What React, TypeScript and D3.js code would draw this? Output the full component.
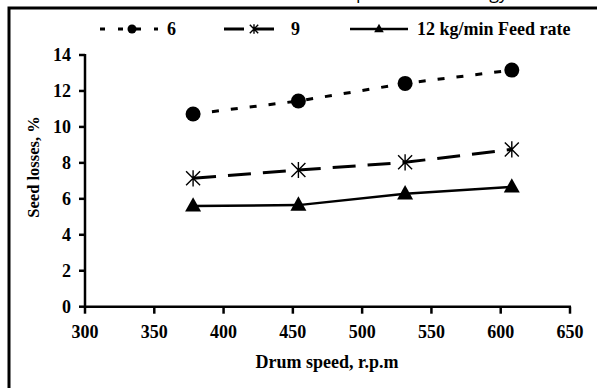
import * as React from 'react';
import * as d3 from 'd3';

// drum speed (r.p.m) where the points sit
const speeds = [378, 454, 531, 608];
// seed losses, % for each feed rate
const rate6 = [10.72, 11.44, 12.42, 13.16];
const rate9 = [7.14, 7.6, 8.03, 8.75];
const rate12 = [5.6, 5.65, 6.28, 6.66];
const xTicks = [300, 350, 400, 450, 500, 550, 600, 650];
const yTicks = [0, 2, 4, 6, 8, 10, 12, 14];
const legendLabels = ['6', '9', '12 kg/min Feed rate'];

const serif = 'Liberation Serif';

function Marker(props: { kind: string; x: number; y: number; s: number }) {
    const { kind, x, y, s } = props;
    if (kind === 'circle') {
        return <circle cx={x} cy={y} r={s / 2} fill="#000" />;
    }
    if (kind === 'star') {
        const h = s / 2;
        const d = 'M' + (x - h) + ',' + (y - h) + 'L' + (x + h) + ',' + (y + h) +
            'M' + (x + h) + ',' + (y - h) + 'L' + (x - h) + ',' + (y + h) +
            'M' + x + ',' + (y - h * 1.15) + 'L' + x + ',' + (y + h * 1.15);
        return <path d={d} stroke="#000" strokeWidth={1.4} fill="none" />;
    }
    const w = s / 2;
    const d = 'M' + x + ',' + (y - s * 0.55) + 'L' + (x + w) + ',' + (y + s * 0.35) + 'L' + (x - w) + ',' + (y + s * 0.35) + 'Z';
    return <path d={d} fill="#000" />;
}

export default function App() {
    const xScale = d3.scaleLinear().domain([300, 650]).range([85, 570]);
    const yScale = d3.scaleLinear().domain([0, 14]).range([306.7, 55]);

    const series = [
        { values: rate6, dash: '7,12', width: 3, marker: 'circle', size: 15, lx: 100, lm: 132 },
        { values: rate9, dash: '23,12', width: 3, marker: 'star', size: 14, lx: 224, lm: 254 },
        { values: rate12, dash: null, width: 2.5, marker: 'triangle', size: 16, lx: 350, lm: 379 }
    ];

    const line = d3.line<number>()
        .x(function(d, i) { return xScale(speeds[i]); })
        .y(function(d) { return yScale(d); });

    return (
        <svg width={597} height={388} style={{ position: 'absolute', left: 0, top: 0, background: '#fff' }}>
            <rect x={0} y={0} width={597} height={388} fill="#fff" />
            {/* title sits mostly above the frame, only descenders show */}
            <text x={367} y={-1} textAnchor="end" fontFamily="Open Sans" fontSize={18}>Crop</text>
            <text x={508} y={-1} textAnchor="end" fontFamily="Open Sans" fontSize={18}>Technology</text>
            <rect x={9} y={8} width={640} height={440} fill="none" stroke="#000" strokeWidth={3} />

            {/* legend */}
            {series.map(function(s, i) {
                const ly = 29;
                return (
                    <g key={'leg' + i}>
                        <line x1={s.lx} x2={s.lx + 58} y1={ly} y2={ly} stroke="#000" strokeWidth={s.width}
                            strokeDasharray={s.dash ? (i === 0 ? '5,13' : '20,10') : undefined} />
                        <Marker kind={s.marker} x={s.lm} y={ly} s={s.size * 0.6} />
                        <text x={s.lx + 67} y={ly + 6} fontFamily={serif} fontWeight="bold" fontSize={18}>{legendLabels[i]}</text>
                    </g>
                );
            })}

            {/* axes */}
            <g stroke="#000" strokeWidth={2.5}>
                <line x1={xScale(300)} x2={xScale(300)} y1={yScale(14) - 1} y2={yScale(0) + 1} />
                <line x1={xScale(300) - 1} x2={xScale(650) + 1} y1={yScale(0)} y2={yScale(0)} />
                {yTicks.map(function(t) {
                    return <line key={'yt' + t} x1={xScale(300) - 6} x2={xScale(300)} y1={yScale(t)} y2={yScale(t)} />;
                })}
                {xTicks.map(function(t) {
                    return <line key={'xt' + t} x1={xScale(t)} x2={xScale(t)} y1={yScale(0)} y2={yScale(0) + 7} />;
                })}
            </g>
            {yTicks.map(function(t) {
                return (
                    <text key={'yl' + t} x={71} y={yScale(t) + 6} textAnchor="end" fontFamily={serif} fontWeight="bold" fontSize={18}>{t}</text>
                );
            })}
            {xTicks.map(function(t) {
                return (
                    <text key={'xl' + t} x={xScale(t)} y={338} textAnchor="middle" fontFamily={serif} fontWeight="bold" fontSize={18}>{t}</text>
                );
            })}
            <text x={327} y={368} textAnchor="middle" fontFamily={serif} fontWeight="bold" fontSize={18}>Drum speed, r.p.m</text>
            <text transform="translate(39,167) rotate(-90)" textAnchor="middle" fontFamily={serif} fontWeight="bold" fontSize={16.5}>Seed losses, %</text>

            {/* series */}
            {series.map(function(s, i) {
                return (
                    <g key={'s' + i}>
                        <path d={line(s.values) || ''} fill="none" stroke="#000" strokeWidth={s.width}
                            strokeDasharray={s.dash || undefined} />
                        {s.values.map(function(v, j) {
                            return <Marker key={j} kind={s.marker} x={xScale(speeds[j])} y={yScale(v)} s={s.size} />;
                        })}
                    </g>
                );
            })}
        </svg>
    );
}
